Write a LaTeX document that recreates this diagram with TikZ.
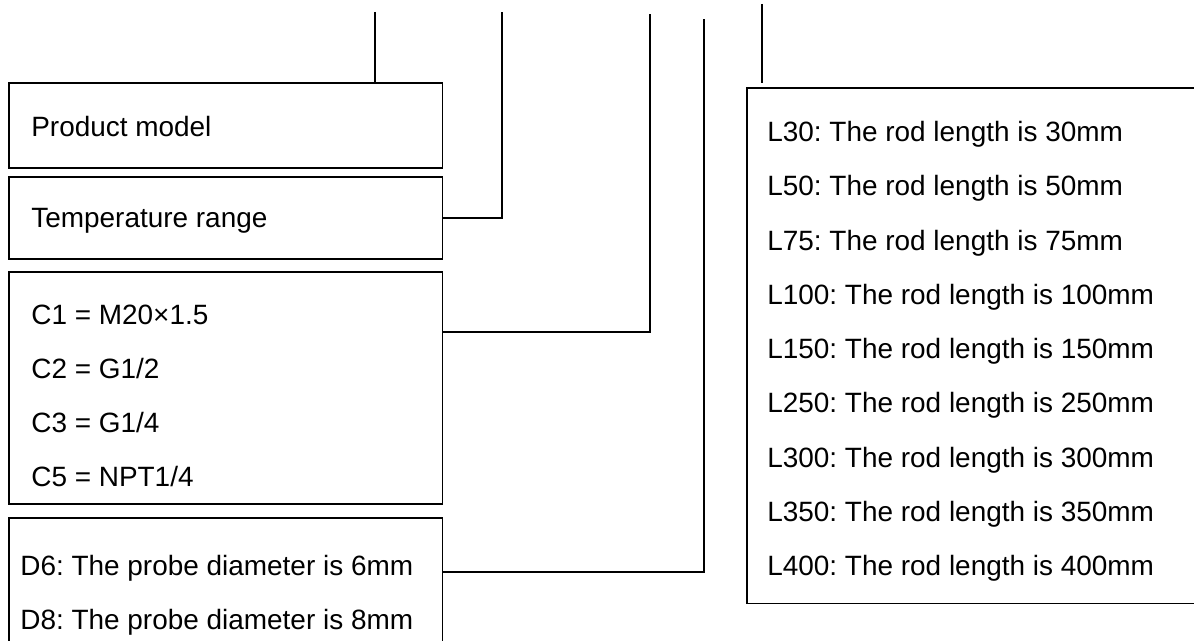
\documentclass[tikz,border=0pt]{standalone}
\usepackage{fontspec}
\setmainfont{Liberation Sans}
\usetikzlibrary{positioning, calc}
\frenchspacing

\begin{document}
\begin{tikzpicture}[
  x=0.02cm, y=-0.02cm,
  every node/.style={font=\fontsize{15.9}{19}\selectfont},
  codebox/.style={draw, line width=0.9pt, inner sep=0, anchor=north west, minimum width=8.68cm},
  codetext/.style={anchor=base west, inner sep=0},
  link/.style={line width=1.4pt},
  thinlink/.style={line width=1.1pt},
]
\useasboundingbox (0,0) rectangle (1194,641);

%% Code boxes
\node[codebox, minimum height=1.7cm]  (pm) at (8,82)  {};
\node[codebox, minimum height=1.64cm] (tr) at (8,176) {};
\node[codebox, minimum height=4.64cm] (ct) at (8,271) {};
\node[codebox, minimum height=2.86cm] (pd) at (8,517) {};
\node[codebox, minimum width=9.28cm, minimum height=10.32cm] (rl) at (746,87) {};

%% Box texts
\node[codetext] (pm1) at (31,137) {Product model};
\node[codetext] (tr1) at (31,228) {Temperature range};

\node[codetext] (ct1) at (31,325) {C1 = M20×1.5};
\node[codetext] (ct2) at (31,379) {C2 = G1/2};
\node[codetext] (ct3) at (31,433) {C3 = G1/4};
\node[codetext] (ct5) at (31,487) {C5 = NPT1/4};

\node[codetext] (pd6) at (20,576) {D6: The probe diameter is 6mm};
\node[codetext] (pd8) at (20,630) {D8: The probe diameter is 8mm};

\node[codetext] (rl1) at (767,142) {L30: The rod length is 30mm};
\node[codetext] (rl2) at (767,196) {L50: The rod length is 50mm};
\node[codetext] (rl3) at (767,251) {L75: The rod length is 75mm};
\node[codetext] (rl4) at (767,305) {L100: The rod length is 100mm};
\node[codetext] (rl5) at (767,359) {L150: The rod length is 150mm};
\node[codetext] (rl6) at (767,413) {L250: The rod length is 250mm};
\node[codetext] (rl7) at (767,468) {L300: The rod length is 300mm};
\node[codetext] (rl8) at (767,522) {L350: The rod length is 350mm};
\node[codetext] (rl9) at (767,576) {L400: The rod length is 400mm};

%% Leads up to the model code
\coordinate (t1) at (375,12);
\coordinate (t2) at (502,12);
\coordinate (t3) at (650,14);
\coordinate (t4) at (704,19);
\coordinate (t5) at (762,4);

\draw[link] (t1) -- (t1 |- pm.north);
\draw[link] (tr.east) -| (t2);
\draw[thinlink] ($(ct.north east)+(0,61)$) -| (t3);
\draw[link] ($(pd.north east)+(0,55)$) -| (t4);
\draw[thinlink, shorten >=0.08cm] (t5) -- (t5 |- rl.north);

\end{tikzpicture}
\end{document}
